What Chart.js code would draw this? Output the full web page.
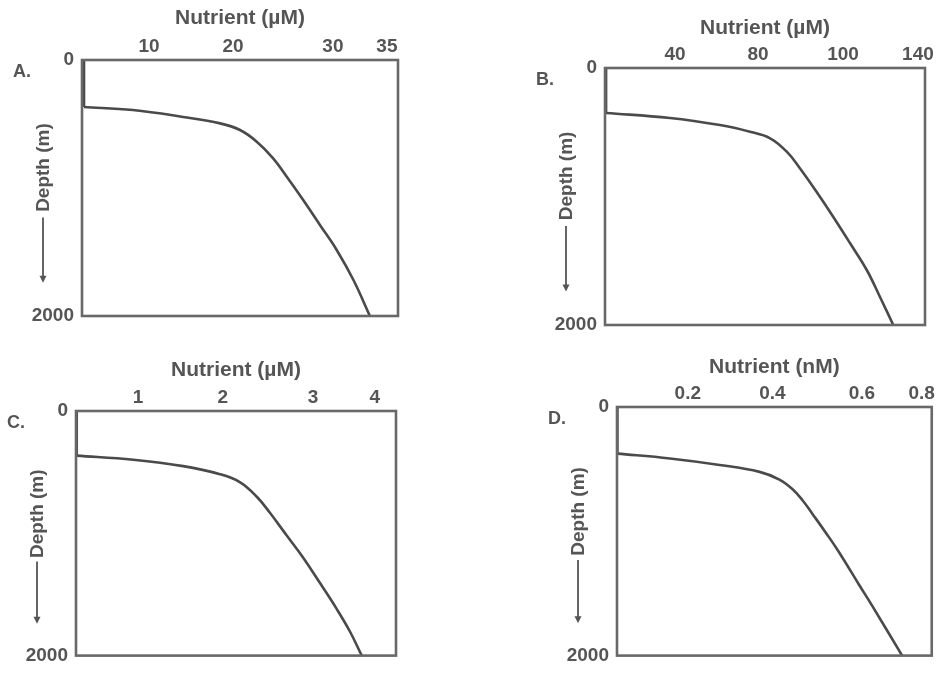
<!DOCTYPE html>
<html><head><meta charset="utf-8">
<script src="https://cdn.jsdelivr.net/npm/chart.js@4/dist/chart.umd.min.js"></script>
<style>
html,body{margin:0;padding:0;background:#fff;width:937px;height:675px;overflow:hidden}
canvas{position:absolute;left:0;top:0}
</style></head>
<body>
<canvas id="cA" width="937" height="675"></canvas>
<canvas id="cB" width="937" height="675"></canvas>
<canvas id="cC" width="937" height="675"></canvas>
<canvas id="cD" width="937" height="675"></canvas>
<script>
// ---- data (x = position across the schematic nutrient axis, 0..1 of its width; y = depth in m)
const posA   = [0.006, 0.006, 0.161, 0.320, 0.437, 0.500, 0.553, 0.605, 0.648, 0.700, 0.753, 0.806, 0.859, 0.911];
const depthA = [0,     367,   391,   445,   495,   547,   638,   768,   912,   1094,  1289,  1484,  1719,  2000];
const posB   = [0.003, 0.003, 0.203, 0.359, 0.453, 0.516, 0.568, 0.609, 0.661, 0.713, 0.766, 0.818, 0.859, 0.901];
const depthB = [0,     350,   389,   444,   496,   547,   651,   780,   963,   1157,  1364,  1572,  1780,  2000];
const posC   = [0.002, 0.002, 0.179, 0.335, 0.450, 0.513, 0.565, 0.606, 0.658, 0.710, 0.763, 0.815, 0.856, 0.893];
const depthC = [0,     365,   399,   451,   517,   583,   701,   832,   1016,  1199,  1409,  1620,  1803,  2000];
const posD   = [0.001, 0.001, 0.168, 0.326, 0.453, 0.516, 0.558, 0.590, 0.621, 0.664, 0.706, 0.769, 0.811, 0.906];
const depthD = [0,     375,   414,   466,   522,   584,   662,   752,   860,   1013,  1170,  1430,  1600,  2000];

// ---- tick labels (the printed nutrient axes are not evenly spaced)
const tickPosA = [0.212, 0.478, 0.794, 0.965]; const tickLabelsA = ['10', '20', '30', '35'];
const tickPosB = [0.219, 0.478, 0.744, 0.978]; const tickLabelsB = ['40', '80', '100', '140'];
const tickPosC = [0.194, 0.459, 0.741, 0.934]; const tickLabelsC = ['1', '2', '3', '4'];
const tickPosD = [0.225, 0.494, 0.778, 0.968]; const tickLabelsD = ['0.2', '0.4', '0.6', '0.8'];
const depthTicks = [0, 2000]; const depthTickLabels = ['0', '2000'];
const axisTitles = ['Nutrient (\u00b5M)', 'Nutrient (\u00b5M)', 'Nutrient (\u00b5M)', 'Nutrient (nM)'];
const panelLetters = ['A.', 'B.', 'C.', 'D.'];
const depthTitle = 'Depth (m)';

// ---- layout (plot boxes in page pixels) and style
const boxes = [
  {l: 82,  t: 60,  r: 398, b: 316, titleY: 18},
  {l: 605, t: 68,  r: 925, b: 325, titleY: 28},
  {l: 76,  t: 411, r: 396, b: 665, titleY: 370},
  {l: 617, t: 407, r: 933, b: 663, titleY: 367}
];
const W = 937, H = 675;
const FONT = "'Liberation Sans', Arial, sans-serif";
const textColor = '#555555';
const lineColor = '#4a4a4a';
const boxColor = '#686868';
const titleSize = 21, tickSize = 19;

const decor = {
  id: 'decor',
  afterDraw(chart, args, opts) {
    const {ctx, chartArea: a} = chart;
    const h = a.bottom - a.top;
    ctx.save();
    ctx.strokeStyle = boxColor;
    ctx.lineWidth = 2.6;
    ctx.strokeRect(a.left, a.top, a.right - a.left, h);
    ctx.fillStyle = textColor;
    ctx.font = 'bold 18px ' + FONT;
    ctx.textAlign = 'center';
    ctx.textBaseline = 'middle';
    ctx.fillText(opts.letter, a.left - 60, a.top + 12);
    // depth label with arrow
    const x = a.left - 39;
    ctx.save();
    ctx.translate(x, a.top + 0.42 * h);
    ctx.rotate(-Math.PI / 2);
    ctx.font = 'bold 19px ' + FONT;
    ctx.fillText(depthTitle, 0, 1);
    ctx.restore();
    const y0 = a.top + 0.615 * h, y1 = a.top + 0.87 * h;
    ctx.strokeStyle = textColor;
    ctx.lineWidth = 1.8;
    ctx.beginPath();
    ctx.moveTo(x, y0); ctx.lineTo(x, y1 - 5);
    ctx.stroke();
    ctx.beginPath();
    ctx.moveTo(x - 3.5, y1 - 7); ctx.lineTo(x + 3.5, y1 - 7); ctx.lineTo(x, y1);
    ctx.closePath();
    ctx.fill();
    ctx.restore();
  }
};

function makePanel(id, idx, pos, depth, tickPos, tickLabels) {
  const bx = boxes[idx];
  const titleLH = titleSize * 1.2;
  const xH = bx.t - bx.titleY + titleLH / 2;
  const yW = 70;
  const pts = pos.map((p, i) => ({x: p, y: depth[i]}));
  new Chart(document.getElementById(id), {
    type: 'line',
    data: {
      datasets: [
        { // near-zero surface layer (vertical segment)
          data: pts.slice(0, 2),
          borderColor: lineColor, borderWidth: 2.8, pointRadius: 0, fill: false, tension: 0
        },
        { // nutricline and deep increase
          data: pts.slice(1),
          borderColor: lineColor, borderWidth: 2.6, pointRadius: 0, fill: false,
          tension: 0.4, borderJoinStyle: 'round'
        }
      ]
    },
    options: {
      responsive: false,
      animation: false,
      events: [],
      layout: {padding: {left: bx.l - yW, top: bx.t - xH, right: W - bx.r, bottom: H - bx.b}},
      plugins: {legend: {display: false}, tooltip: {enabled: false}, decor: {letter: panelLetters[idx]}},
      scales: {
        x: {
          type: 'linear', position: 'top', min: 0, max: 1,
          grid: {display: false, drawTicks: false, tickLength: 0},
          border: {display: false},
          afterBuildTicks: s => { s.ticks = tickPos.map(v => ({value: v})); },
          afterFit: s => { s.height = xH; },
          ticks: {
            autoSkip: false, maxRotation: 0, padding: 2,
            color: textColor, font: {family: FONT, size: tickSize, weight: 'bold'},
            callback: (v, i) => tickLabels[i]
          },
          title: {display: true, text: axisTitles[idx], color: textColor, padding: 0,
                  font: {family: FONT, size: titleSize, weight: 'bold'}}
        },
        y: {
          type: 'linear', position: 'left', min: 0, max: 2000, reverse: true,
          grid: {display: false, drawTicks: false, tickLength: 0},
          border: {display: false},
          afterBuildTicks: s => { s.ticks = depthTicks.map(v => ({value: v})); },
          afterFit: s => { s.width = yW; },
          ticks: {
            autoSkip: false, padding: 8,
            color: textColor, font: {family: FONT, size: tickSize, weight: 'bold'},
            callback: (v, i) => depthTickLabels[i]
          }
        }
      }
    },
    plugins: [decor]
  });
}

makePanel('cA', 0, posA, depthA, tickPosA, tickLabelsA);
makePanel('cB', 1, posB, depthB, tickPosB, tickLabelsB);
makePanel('cC', 2, posC, depthC, tickPosC, tickLabelsC);
makePanel('cD', 3, posD, depthD, tickPosD, tickLabelsD);
</script>
</body></html>
